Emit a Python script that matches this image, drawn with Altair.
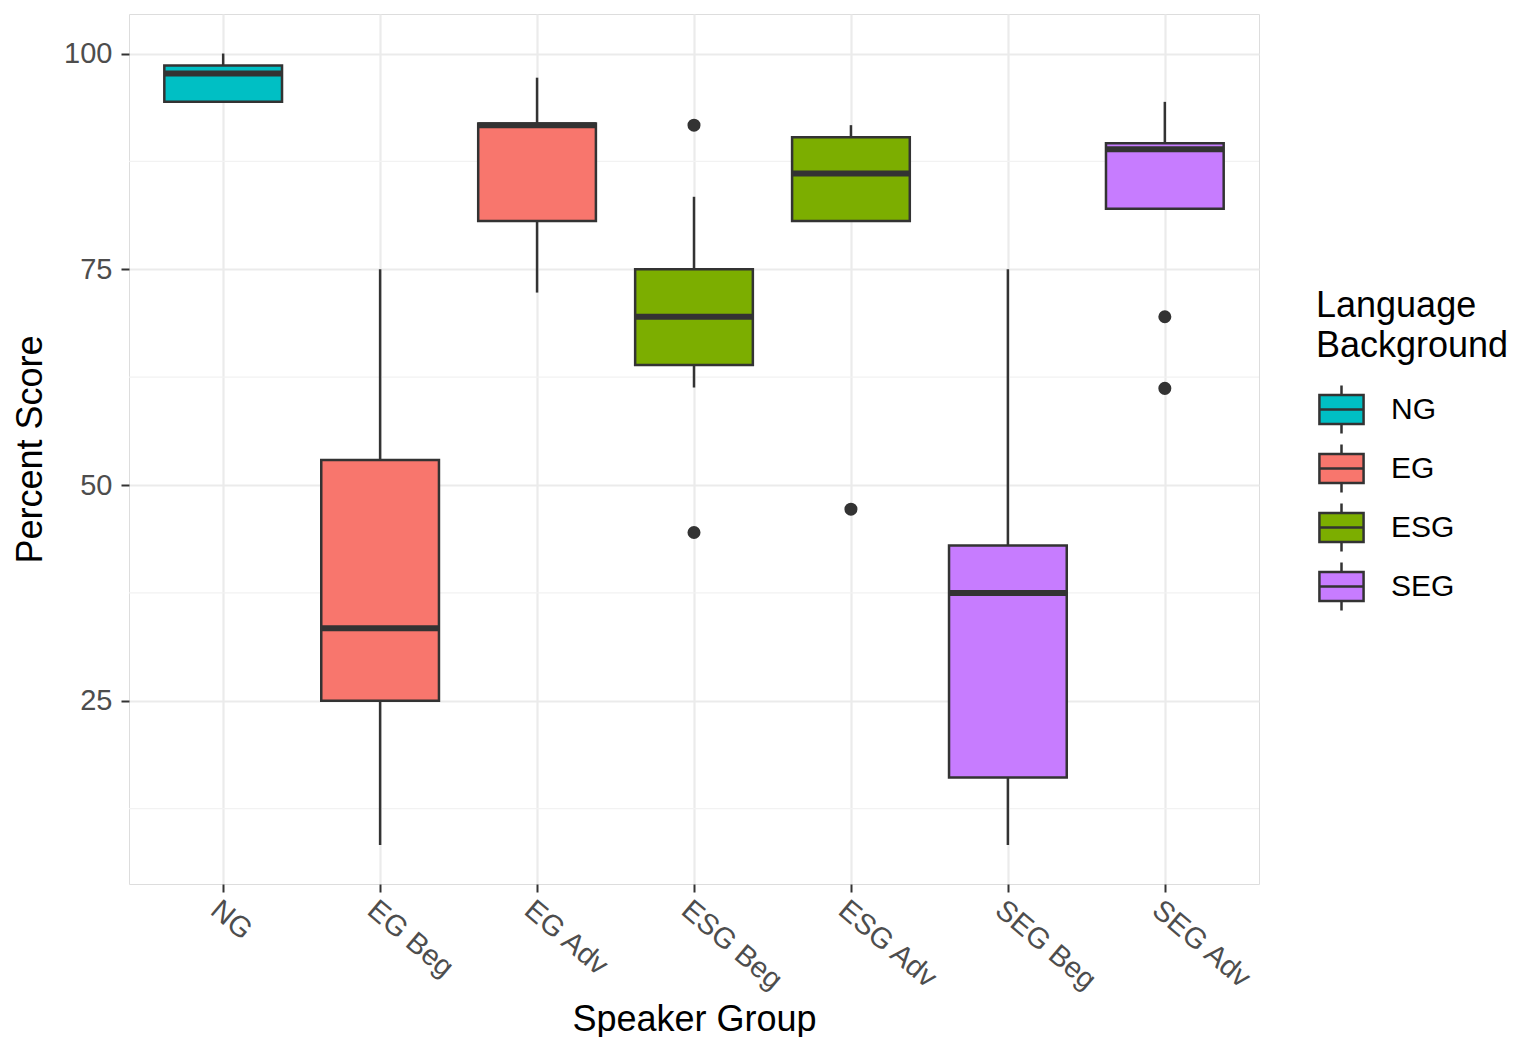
import altair as alt
import pandas as pd

groups = ["NG", "EG Beg", "EG Adv", "ESG Beg", "ESG Adv", "SEG Beg", "SEG Adv"]
background = ["NG", "EG", "EG", "ESG", "ESG", "SEG", "SEG"]
q1 = [94.4, 25.0, 80.6, 63.9, 80.6, 16.1, 82.0]
median = [97.7, 33.4, 91.7, 69.5, 86.1, 37.5, 88.9]
q3 = [98.6, 52.9, 91.9, 75.0, 90.3, 43.0, 89.6]
whisk_lo = [94.4, 8.3, 72.3, 61.3, 80.6, 8.3, 82.0]
whisk_hi = [100.0, 75.0, 97.2, 83.4, 91.7, 75.0, 94.4]
out_group = ["ESG Beg", "ESG Beg", "ESG Adv", "SEG Adv", "SEG Adv"]
out_value = [91.7, 44.5, 47.2, 69.5, 61.2]
minor_y = [12.5, 37.5, 62.5, 87.5]
bg_levels = ["NG", "EG", "ESG", "SEG"]
bg_colors = ["#00BFC4", "#F8766D", "#7CAE00", "#C77CFF"]

FONT = "Liberation Sans"
HALF = 0.375

df = pd.DataFrame({
    "group": groups, "bg": background, "q1": q1, "med": median, "q3": q3,
    "lo": whisk_lo, "hi": whisk_hi,
    "pos": list(range(1, len(groups) + 1)),
})
df["xl"] = df["pos"] - HALF
df["xr"] = df["pos"] + HALF
pos_of = {g: i + 1 for i, g in enumerate(groups)}
dout = pd.DataFrame({"pos": [pos_of[g] for g in out_group], "v": out_value})
dminor = pd.DataFrame({"v": minor_y})

label_expr = "[" + ",".join("'%s'" % g for g in groups) + "][datum.value - 1]"

xscale = alt.Scale(domain=[0.4, len(groups) + 0.6], nice=False, zero=False)
yscale = alt.Scale(domain=[3.77, 104.58], nice=False, zero=False)

xaxis = alt.Axis(
    values=list(range(1, len(groups) + 1)), labelExpr=label_expr,
    title="Speaker Group", titleFont=FONT, titleFontSize=36, titleFontWeight="normal",
    titleColor="#000000", titleX=565, titleY=135, titleBaseline="middle",
    labelFont=FONT, labelFontSize=29, labelColor="#4d4d4d", labelAngle=40,
    labelAlign="left", labelBaseline="top", labelPadding=3,
    tickColor="#333333", tickSize=8, tickWidth=2, domain=False,
    grid=True, gridColor="#ebebeb", gridWidth=2.2,
)
yaxis = alt.Axis(
    values=[25, 50, 75, 100],
    title="Percent Score", titleFont=FONT, titleFontSize=36, titleFontWeight="normal",
    titleColor="#000000", titleX=-99, titleY=435, titleBaseline="middle", titleAngle=-90,
    labelFont=FONT, labelFontSize=29, labelColor="#4d4d4d", labelPadding=9,
    tickColor="#333333", tickSize=8, tickWidth=2, domain=False,
    grid=True, gridColor="#ebebeb", gridWidth=2.2,
)

base = alt.Chart(df)

minor = alt.Chart(dminor).mark_rule(color="#f2f2f2", strokeWidth=1.3).encode(
    y=alt.Y("v:Q", scale=yscale, axis=yaxis),
    x=alt.value(0), x2=alt.value(1130),
)

whisk = base.mark_rule(color="#333333", strokeWidth=2.5).encode(
    x=alt.X("pos:Q", scale=xscale, axis=xaxis),
    y=alt.Y("lo:Q", scale=yscale, axis=yaxis),
    y2="hi:Q",
)

legend_path = "M-0.92,-0.6H0.92V0.6H-0.92Z M-0.92,0H0.92 M0,-0.6V-1 M0,0.6V1"

box = base.mark_bar(stroke="#333333", strokeWidth=2.5, opacity=1).encode(
    x=alt.X("xl:Q", scale=xscale, axis=xaxis),
    x2="xr:Q",
    y=alt.Y("q1:Q", scale=yscale, axis=yaxis),
    y2="q3:Q",
    fill=alt.Fill("bg:N", scale=alt.Scale(domain=bg_levels, range=bg_colors),
                  legend=alt.Legend(
                      title=["Language", "Background"], orient="none",
                      legendX=1187, legendY=275,
                      titleFont=FONT, titleFontSize=36, titleFontWeight="normal",
                      titleColor="#000000", titlePadding=19, titleLimit=400,
                      titleLineHeight=40,
                      labelFont=FONT, labelFontSize=30, labelColor="#000000",
                      labelOffset=24,
                      symbolType=legend_path, symbolSize=2304,
                      symbolStrokeColor="#333333", symbolStrokeWidth=2.5,
                      symbolOpacity=1, rowPadding=0,
                  )),
)

med = base.mark_rule(color="#333333", strokeWidth=6).encode(
    x=alt.X("xl:Q", scale=xscale, axis=xaxis),
    x2="xr:Q",
    y=alt.Y("med:Q", scale=yscale, axis=yaxis),
)

pts = alt.Chart(dout).mark_circle(color="#333333", size=170, opacity=1).encode(
    x=alt.X("pos:Q", scale=xscale, axis=xaxis),
    y=alt.Y("v:Q", scale=yscale, axis=yaxis),
)

chart = alt.layer(minor, whisk, box, med, pts).properties(
    width=1130, height=870,
    autosize=alt.AutoSizeParams(type="none"),
    padding={"left": 121, "top": 6, "right": 251, "bottom": 153},
).configure_view(stroke="#7a7a7a", strokeWidth=1.6).configure(background="white")

chart.save("out.html", embed_options={"renderer": "svg", "actions": False})
